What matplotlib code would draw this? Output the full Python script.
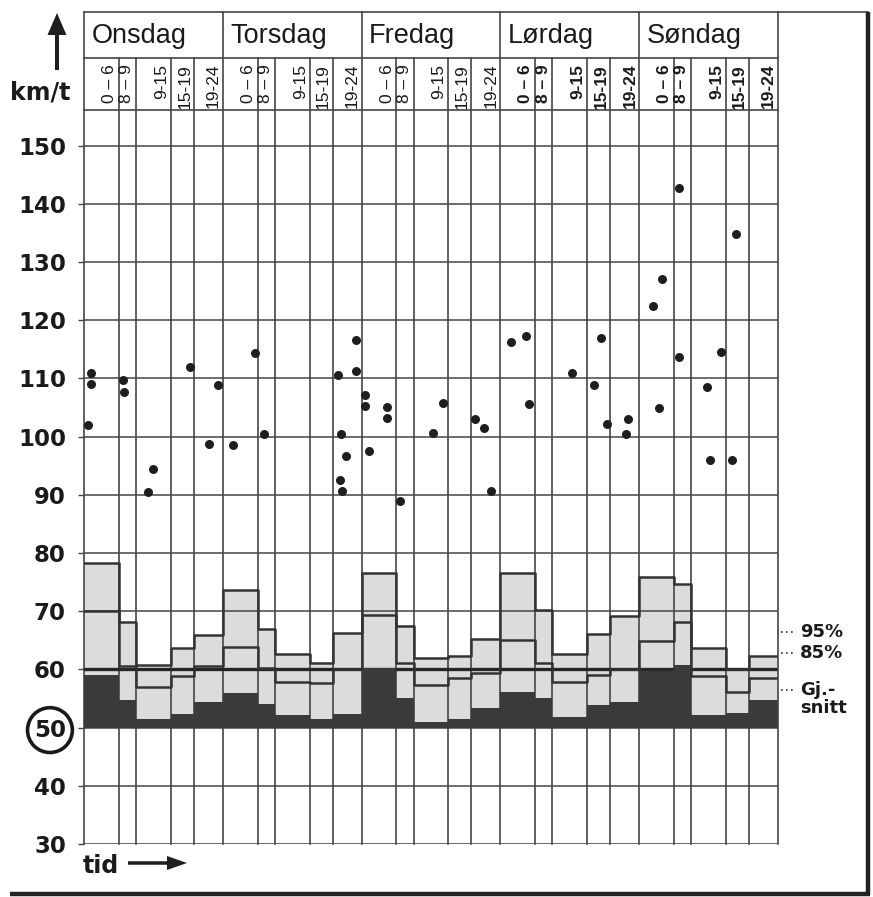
import matplotlib
matplotlib.use("Agg")
import matplotlib.pyplot as plt
import matplotlib.transforms as mtransforms
from matplotlib.patches import FancyArrow
import numpy as np

# ---------------- data ----------------
days = ["Onsdag", "Torsdag", "Fredag", "Lørdag", "Søndag"]
periods = ["0 – 6", "8 – 9", "9-15", "15-19", "19-24"]

# 95 % percentile, 85 % percentile and mean speed (km/t) per period, day by day
p95 = [78.2, 68.2, 60.7, 63.7, 65.9,
       73.6, 67.0, 62.6, 61.1, 66.3,
       76.5, 67.5, 62.0, 62.3, 65.3,
       76.5, 70.2, 62.6, 66.0, 69.2,
       75.9, 74.7, 63.7, 60.0, 62.3]
p85 = [70.0, 60.5, 56.9, 58.8, 60.5,
       63.8, 60.3, 57.9, 57.6, 60.0,
       69.4, 61.1, 57.4, 58.5, 59.4,
       65.0, 61.1, 57.9, 59.1, 60.0,
       64.9, 68.2, 58.8, 56.2, 58.5]
mean = [59.0, 54.8, 51.5, 52.4, 54.4,
        55.9, 54.0, 52.2, 51.5, 52.4,
        60.2, 55.0, 51.0, 51.5, 53.3,
        56.2, 55.0, 51.8, 53.9, 54.4,
        59.7, 60.8, 52.2, 52.5, 54.7]

# single highest speeds: day index, hour of day, speed
pt_day = [0, 0, 0, 0, 0, 0, 0, 0, 0, 0,
          1, 1, 1, 1, 1, 1, 1, 1, 1, 1,
          2, 2, 2, 2, 2, 2, 2, 2, 2, 2, 2,
          3, 3, 3, 3, 3, 3, 3, 3, 3,
          4, 4, 4, 4, 4, 4, 4, 4, 4, 4]
pt_hour = [1.2, 1.2, 0.7, 6.8, 6.9, 12.0, 11.1, 18.3, 23.2, 21.7,
           1.7, 5.6, 7.1, 20.0, 23.1, 23.1, 20.4, 21.3, 20.3, 20.6,
           0.6, 0.6, 1.3, 4.4, 4.4, 6.6, 12.4, 14.1, 19.6, 21.2, 22.4,
           1.8, 4.4, 5.0, 12.4, 16.2, 17.4, 18.4, 21.7, 22.1,
           2.3, 4.0, 3.5, 6.8, 6.8, 16.7, 14.1, 11.7, 12.2, 16.0]
pt_val = [110.9, 109.1, 102.0, 109.7, 107.7, 94.5, 90.4, 111.9, 108.9, 98.7,
          98.6, 114.3, 100.4, 110.6, 116.6, 111.2, 100.5, 96.6, 92.6, 90.7,
          107.2, 105.2, 97.5, 105.0, 103.2, 88.9, 100.6, 105.8, 103.0, 101.4, 90.6,
          116.3, 117.2, 105.6, 110.9, 108.9, 117.0, 102.1, 100.5, 103.0,
          122.4, 127.1, 104.9, 142.8, 113.6, 134.8, 114.5, 108.6, 96.0, 96.0]

yticks = list(range(30, 151, 10))

# ---------------- layout ----------------
W, H = 873, 897
period_edges = [0, 6, 9, 15, 19, 24]   # column boundaries (hours) within one day
fig = plt.figure(figsize=(W / 100, H / 100), dpi=100)
fig.patch.set_facecolor("white")

ax_l, ax_r, ax_t, ax_b = 84, 778, 110, 844
ax = fig.add_axes([ax_l / W, 1 - ax_b / H, (ax_r - ax_l) / W, (ax_b - ax_t) / H])
ymin = 30
ymax = 30 + (ax_b - ax_t) / 58.2 * 10
ax.set_xlim(0, 24 * len(days))
ax.set_ylim(ymin, ymax)

grid_c = "#454545"
light = "#dcdcdc"
dark = "#3a3a3a"

x_edges = [d * 24 + e for d in range(len(days)) for e in period_edges[:-1]] + [24 * len(days)]
m_ext = mean + [mean[-1]]
p95_ext = p95 + [p95[-1]]
p85_ext = p85 + [p85[-1]]

ax.fill_between(x_edges, m_ext, p95_ext, step="post", color=light, lw=0, zorder=1)
for v in yticks:
    ax.axhline(v, color=grid_c, lw=1.1, zorder=2)
ax.axhline(60, color="#262626", lw=2.4, zorder=2.5)
ax.fill_between(x_edges, 50, m_ext, step="post", color=dark, lw=0, zorder=3)
ax.step(x_edges, p95_ext, where="post", color="#333333", lw=1.8, zorder=4)
ax.step(x_edges, p85_ext, where="post", color="#333333", lw=1.8, zorder=4)

px = [d * 24 + h for d, h in zip(pt_day, pt_hour)]
ax.scatter(px, pt_val, s=42, color="#1e1e1e", zorder=6, linewidths=0)

# vertical grid + header
trans = mtransforms.blended_transform_factory(ax.transData, ax.transAxes)
hdr_mid = (ax_b - 58) / (ax_b - ax_t)
hdr_top = (ax_b - 12) / (ax_b - ax_t)
for d in range(len(days)):
    for i, e in enumerate(period_edges[:-1]):
        x = d * 24 + e
        top = hdr_top if i == 0 else hdr_mid
        ax.plot([x, x], [0, top], transform=trans, color=grid_c, lw=1.2,
                clip_on=False, zorder=2.2)
ax.plot([120, 120], [0, hdr_top], transform=trans, color=grid_c, lw=1.2,
        clip_on=False, zorder=5)
ax.plot([0, 120], [hdr_mid, hdr_mid], transform=trans, color=grid_c, lw=1.2,
        clip_on=False, zorder=5)
ax.plot([0, 120], [1, 1], transform=trans, color=grid_c, lw=1.2,
        clip_on=False, zorder=5)

day_y = (ax_b - 36) / (ax_b - ax_t)
per_y = (ax_b - 64) / (ax_b - ax_t)
for d, name in enumerate(days):
    ax.text(d * 24 + 1.3, day_y, name, transform=trans, ha="left", va="center",
            fontsize=19.5, family="Liberation Sans", color="#1a1a1a", clip_on=False)
    for i, lab in enumerate(periods):
        right = period_edges[i + 1]
        ax.text(d * 24 + right - 1.6, per_y, lab, transform=trans, rotation=90,
                ha="center", va="top", fontsize=12.5, family="Liberation Sans",
                fontweight="bold" if d >= 3 else "normal", color="#1a1a1a",
                clip_on=False)

for s in ax.spines.values():
    s.set_visible(False)
ax.set_xticks([])
ax.set_yticks(yticks)
ax.set_yticklabels([str(v) for v in yticks])
ax.tick_params(axis="y", length=4, width=1.0, color=grid_c, pad=9)
for lab in ax.get_yticklabels():
    lab.set_fontsize(16.5)
    lab.set_fontweight("bold")
    lab.set_family("DejaVu Sans")
    lab.set_color("#1a1a1a")
    if lab.get_text() == "50":
        lab.set_bbox(dict(boxstyle="circle,pad=0.28", fc="none", ec="#1a1a1a", lw=2.6))

# ---------------- overlay (frame, arrows, annotations) ----------------
ov = fig.add_axes([0, 0, 1, 1], facecolor="none")
ov.set_xlim(0, W)
ov.set_ylim(H, 0)
ov.axis("off")

ov.add_patch(FancyArrow(57, 70, 0, -57, width=4, head_width=19, head_length=22,
                        length_includes_head=True, color="#1e1e1e", lw=0))
ov.text(10, 93, "km/t", ha="left", va="center", fontsize=17, fontweight="bold",
        family="DejaVu Sans", color="#1a1a1a")
ov.text(83, 866, "tid", ha="left", va="center", fontsize=17, fontweight="bold",
        family="DejaVu Sans", color="#1a1a1a")
ov.add_patch(FancyArrow(128, 863, 59, 0, width=3.5, head_width=14, head_length=20,
                        length_includes_head=True, color="#1e1e1e", lw=0))

for yy, txt in [(632, "95%"), (653, "85%"), (690, "Gj.-"), (708, "snitt")]:
    ov.text(800, yy, txt, ha="left", va="center", fontsize=13, fontweight="bold",
            family="DejaVu Sans", color="#1a1a1a")
for yy in [632, 653, 690]:
    ov.plot([781, 796], [yy, yy], ls=(0, (1, 2)), color="#333333", lw=1.2)

ov.plot([ax_l, 868], [12, 12], color=grid_c, lw=1.2)
ov.plot([868, 868], [12, 895], color="#222222", lw=3.2, solid_capstyle="butt")
ov.plot([10, 870], [894, 894], color="#222222", lw=3.2, solid_capstyle="butt")

fig.savefig("out.png", dpi=100)
